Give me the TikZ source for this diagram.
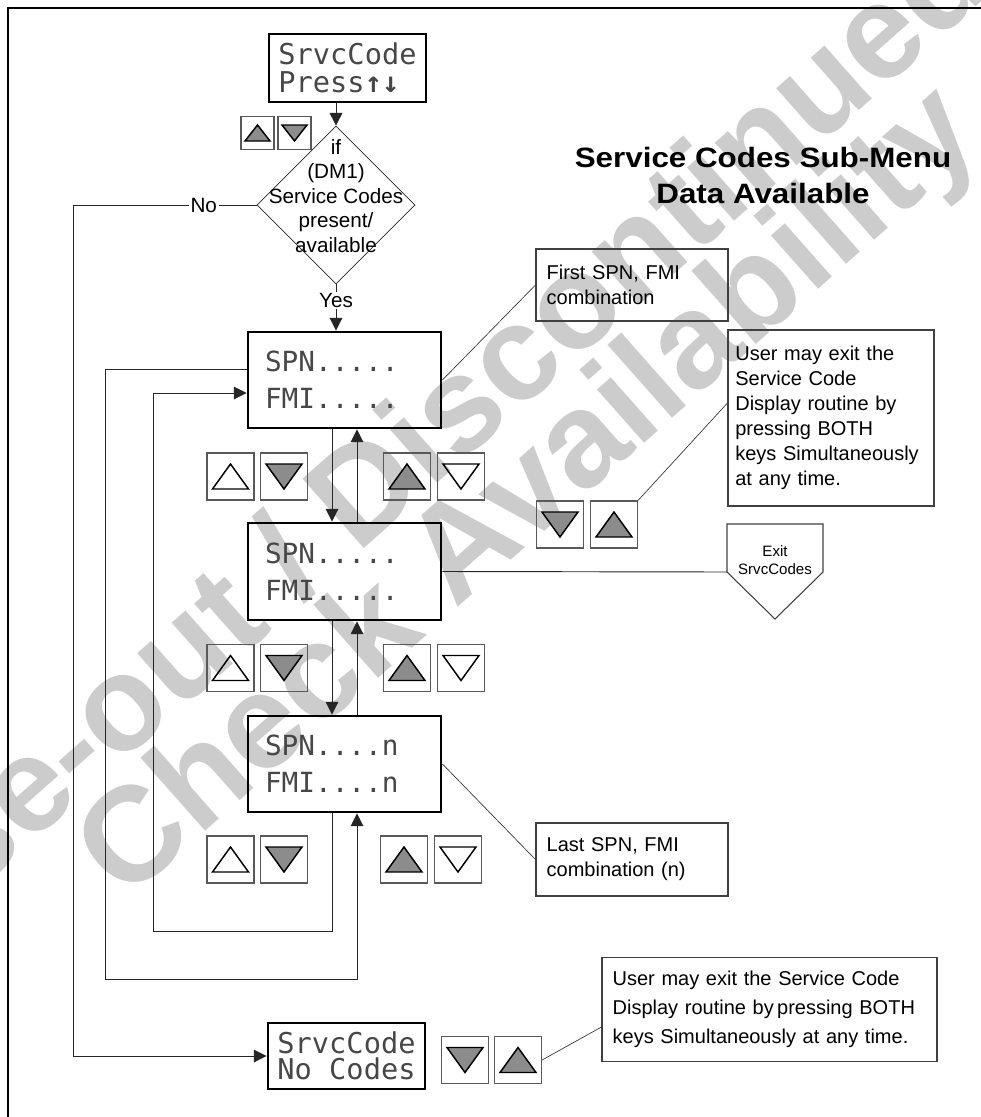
\documentclass[tikz,border=0pt]{standalone}
\usepackage{fontspec}
\setmainfont{Liberation Sans}
\newfontfamily\lcdfont{DejaVu Sans Mono}
\newfontfamily\titlefont{Liberation Sans}[FakeStretch=1.12]
\newfontfamily\wmfont{Liberation Sans}
\usetikzlibrary{arrows.meta,shapes.geometric}
\tikzset{
  lcdbox/.style={draw=black, line width=2.2pt, inner sep=0pt, align=left, text=black!72,
    font=\lcdfont\fontsize{20.8}{27.75}\selectfont},
  key/.style={draw=black!65, line width=0.8pt, inner sep=0pt},
  tri/.style={draw=black, line width=1.1pt, line join=miter},
  wline/.style={draw=black!85, line width=0.7pt},
  arr/.style={wline, -{Triangle[length=9.5pt,width=9.5pt]}},
  callout/.style={draw=black!75, line width=0.8pt, align=left, inner xsep=8pt, inner ysep=0pt,
    font=\fontsize{15}{18.75}\selectfont},
  leader/.style={draw=black!80, line width=0.5pt},
  wm/.style={rotate=41.5, text=black!20, font=\wmfont\bfseries\fontsize{101}{101}\selectfont}
}
\newcommand\kbU[7]{\node[key, minimum width=#7, minimum height=#7] (#1) at (#2,#3) {};
  \draw[tri, fill=#4, shift={(#1.center)}] (-#5,#6) -- (#5,#6) -- (0,-#6) -- cycle;}
\newcommand\kbD[7]{\node[key, minimum width=#7, minimum height=#7] (#1) at (#2,#3) {};
  \draw[tri, fill=#4, shift={(#1.center)}] (-#5,-#6) -- (#5,-#6) -- (0,#6) -- cycle;}
\begin{document}
\begin{tikzpicture}[x=0.75pt,y=-0.75pt]
\useasboundingbox (0,0) rectangle (981,1117);
\clip (0,0) rectangle (981,1117);

% watermark
\node[wm] (wm1) at (360,489) {Phase-out / Discontinued};
\node[wm] (wm2) at (532,496) {Check Availability};

% frame
\draw[line width=2pt] (8,1140) -- (8,8) -- (1000,8);

% title
\node[font=\titlefont\bfseries\fontsize{21}{27}\selectfont, align=center] (title) at (763,175)
  {Service Codes Sub-Menu\\Data Available};

% top display
\node[lcdbox, minimum width=117.75pt, minimum height=51pt, font=\lcdfont\fontsize{21.5}{21}\selectfont]
  (top) at (347.5,68) {SrvcCode\\Press{\bfseries ↑↓}};

% decision
\node[draw=black!85, line width=0.6pt, diamond, minimum width=118.5pt, minimum height=118.5pt, inner sep=0pt]
  (dia) at (336,205) {};
\node[align=center, font=\fontsize{15.5}{18.4}\selectfont] (diatext) at (336,196)
  {if\\(DM1)\\Service Codes\\present/\\available};
\draw[arr] (top.south -| dia.north) -- (dia.north);

\kbU{k0u}{257.5}{133}{black!45}{12.5}{8}{24.75pt}
\kbD{k0d}{294.5}{133}{black!45}{12.5}{8}{24.75pt}

% displays
\node[lcdbox, minimum width=144.75pt, minimum height=72pt, text width=119.25pt, inner xsep=12.75pt]
  (box1) at (344.5,380) {SPN.....\\FMI.....};
\node[lcdbox, minimum width=144.75pt, minimum height=72.75pt, text width=119.25pt, inner xsep=12.75pt]
  (box2) at (344.5,571.5) {SPN.....\\FMI.....};
\node[lcdbox, minimum width=144.75pt, minimum height=72pt, text width=119.25pt, inner xsep=12.75pt]
  (box3) at (344.5,764) {SPN....n\\FMI....n};
\node[lcdbox, minimum width=117.75pt, minimum height=49.5pt, font=\lcdfont\fontsize{21.5}{19.5}\selectfont]
  (nocodes) at (346.5,1056) {SrvcCode\\No Codes};

\draw[arr] (dia.south) -- node[pos=0.35, fill=white, inner sep=1pt, font=\fontsize{15.5}{18}\selectfont] (yes) {Yes} (dia.south |- box1.north);

\coordinate (nocorner) at (73,205);
\draw[arr] (dia.west) -- node[pos=0.288, fill=white, inner sep=1.5pt, font=\fontsize{15.5}{18}\selectfont] (no) {No} (nocorner) |- (nocodes.west);

% vertical links
\coordinate (xd) at (332,0); \coordinate (xu) at (357,0);
\draw[arr] (box1.south -| xd) -- (box2.north -| xd);
\draw[arr] (box2.north -| xu) -- (box1.south -| xu);
\draw[arr] (box2.south -| xd) -- (box3.north -| xd);
\draw[arr] (box3.north -| xu) -- (box2.south -| xu);

% loops
\coordinate (yA) at (0,369); \coordinate (yB) at (0,393);
\coordinate (xo) at (105,0); \coordinate (xi) at (153,0);
\coordinate (yo) at (0,979); \coordinate (yi) at (0,931);
\draw[arr] (box3.south -| xd) -- (xd |- yi) -- (xi |- yi) -- (xi |- yB) -- (box1.west |- yB);
\draw[arr] (box1.west |- yA) -- (xo |- yA) -- (xo |- yo) -- (xu |- yo) -- (box3.south -| xu);

% key rows
\kbU{a1}{230.5}{476.5}{none}{18}{12.5}{35.25pt}
\kbD{b1}{284}{476.5}{black!45}{18}{12.5}{35.25pt}
\kbU{c1}{407}{476.5}{black!45}{18}{12.5}{35.25pt}
\kbD{d1}{461}{476.5}{none}{18}{12.5}{35.25pt}
\kbU{a2}{230.5}{668}{none}{18}{12.5}{35.25pt}
\kbD{b2}{284}{668}{black!45}{18}{12.5}{35.25pt}
\kbU{c2}{407}{668}{black!45}{18}{12.5}{35.25pt}
\kbD{d2}{461}{668}{none}{18}{12.5}{35.25pt}
\kbU{a3}{230.5}{859.5}{none}{18}{12.5}{35.25pt}
\kbD{b3}{284}{859.5}{black!45}{18}{12.5}{35.25pt}
\kbU{c3}{404}{859.5}{black!45}{18}{12.5}{35.25pt}
\kbD{d3}{458}{859.5}{none}{18}{12.5}{35.25pt}
\kbD{rkd}{560}{524.5}{black!45}{18}{12.5}{35.25pt}
\kbU{rku}{614}{524.5}{black!45}{18}{12.5}{35.25pt}
\kbD{bkd}{465}{1060}{black!45}{18}{12.5}{35.25pt}
\kbU{bku}{518}{1060}{black!45}{18}{12.5}{35.25pt}

% callouts
\node[callout, text width=128pt, minimum height=54pt] (first) at (632,285) {First SPN, FMI\\combination};
\node[callout, text width=143.5pt, inner xsep=5.5pt, minimum height=132pt] (ue) at (831,418)
  {User may exit the\\Service Code\\Display routine by\\pressing BOTH\\keys Simultaneously\\at any time.};
\node[callout, text width=128pt, minimum height=54.75pt] (last) at (632,859.5) {Last SPN, FMI\\combination (n)};
\node[callout, text width=235.25pt, minimum height=78pt, font=\fontsize{15}{21.75}\selectfont] (bco) at (769.5,1009.5)
  {User may exit the Service Code\\Display routine by\,pressing BOTH\\keys Simultaneously at any time.};

% exit shape
\coordinate (exTL) at (727,524); \coordinate (exTR) at (823,524);
\coordinate (exR) at (823,572); \coordinate (exP) at (775,619); \coordinate (exL) at (727,572);
\draw[draw=black!75, line width=0.8pt] (exTL) -- (exTR) -- (exR) -- (exP) -- (exL) -- cycle;
\node[align=center, font=\fontsize{11.3}{13.5}\selectfont] (exit) at (775,560) {Exit\\SrvcCodes};
\draw[wline] (box2.east) -- (exL);

% leaders
\coordinate (yue) at (0,403); \coordinate (ybco) at (0,1027);
\draw[leader] (box1.east) -- (first.west);
\draw[leader] (box3.east) -- (last.west);
\draw[leader] (rku.north east) -- (ue.west |- yue);
\draw[leader] (bku.east) -- (bco.west |- ybco);
\end{tikzpicture}
\end{document}
